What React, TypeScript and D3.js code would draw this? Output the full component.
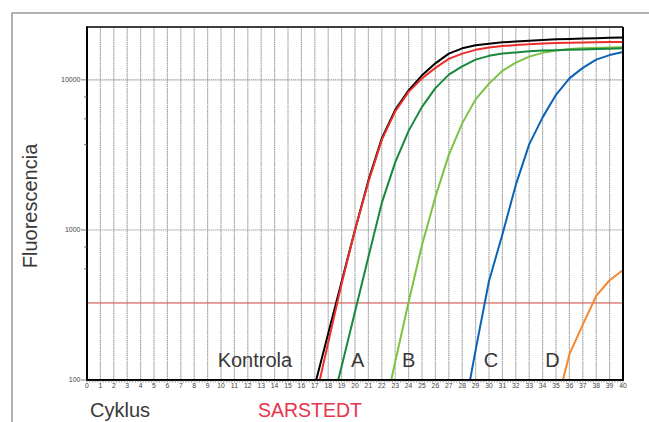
import React from "react";
import * as d3 from "d3";

const W = 649;
const H = 422;

const cycleTicks = d3.range(0, 41);
const cycleMinorTicks = d3.range(0, 40.001, 0.2);
const yMajorTicks = [100, 1000, 10000];
const yMinorTicks = [7700, 5500, 3700, 770, 550];
const thresholdValue = 326;

const kontrolaStart = 16;
const kontrola = [42, 92, 204, 452, 1000, 2138, 4074, 6310, 8511, 10715, 12882, 14962, 16218, 16982, 17378, 17783, 17989, 18197, 18408, 18621, 18750, 18880, 18967, 19055, 19143];
const sarstedtStart = 16;
const sarstedt = [28, 71, 178, 437, 1000, 2089, 3981, 6166, 8318, 10233, 12023, 13804, 14962, 15849, 16406, 16788, 17061, 17298, 17458, 17579, 17660, 17742, 17824, 17865, 17906];
const aStart = 18;
const seriesA = [54, 123, 285, 661, 1514, 2818, 4571, 6607, 8810, 10839, 12303, 13646, 14454, 14962, 15241, 15488, 15668, 15776, 15849, 15959, 16032, 16106, 16218];
const bStart = 22;
const seriesB = [52, 132, 331, 794, 1660, 3162, 5129, 7413, 9441, 11482, 13032, 14289, 15136, 15668, 16032, 16218, 16331, 16444, 16520];
const cStart = 28;
const seriesC = [52, 158, 457, 933, 1995, 3715, 5623, 7943, 10233, 12023, 13646, 14622, 15311];
const dStart = 35;
const seriesD = [66, 148, 234, 363, 462, 541];

const curveLabels = [
  { text: "Kontrola", cycle: 9.75 },
  { text: "A", cycle: 19.7 },
  { text: "B", cycle: 23.5 },
  { text: "C", cycle: 29.6 },
  { text: "D", cycle: 34.2 },
];

const FONT = "'Liberation Sans', Arial, Helvetica, sans-serif";

export default function App() {
  const left = 87, right = 623, top = 27, bottom = 380;
  const x = d3.scaleLinear().domain([0, 40]).range([left, right]);
  const y = d3.scaleLog().domain([100, 22500]).range([bottom, top]);

  const mk = (start: number, vals: number[]) =>
    d3
      .line<number>()
      .x((_, i) => x(start + i))
      .y((v) => y(v))(vals) || "";

  const series = [
    { d: mk(dStart, seriesD), color: "#f5872e" },
    { d: mk(cStart, seriesC), color: "#0b63b5" },
    { d: mk(bStart, seriesB), color: "#7cc243" },
    { d: mk(aStart, seriesA), color: "#17893d" },
    { d: mk(kontrolaStart, kontrola), color: "#000000" },
    { d: mk(sarstedtStart, sarstedt), color: "#ec2f2b" },
  ];

  return (
    <svg width={W} height={H} style={{ position: "absolute", left: 0, top: 0 }}>
      <rect x={0} y={0} width={W} height={H} fill="#fff" />
      <rect x={12} y={13} width={W + 10} height={H + 10} fill="none" stroke="#9a9a9a" strokeWidth={1.5} />
      <defs>
        <clipPath id="plotclip">
          <rect x={left} y={top} width={right - left} height={bottom - top} />
        </clipPath>
      </defs>
      {/* vertical grid */}
      {cycleTicks.slice(1, 40).map((c) => (
        <line key={"vg" + c} x1={x(c)} x2={x(c)} y1={top} y2={bottom} stroke="#a2a2a2" strokeWidth={1.2} strokeDasharray="1.5 0.6" />
      ))}
      {/* horizontal grid */}
      {yMajorTicks.slice(1).map((v) => (
        <line key={"hg" + v} x1={left} x2={right} y1={y(v)} y2={y(v)} stroke="#a2a2a2" strokeWidth={1.1} strokeDasharray="1.5 0.6" />
      ))}
      {/* threshold */}
      <line x1={left} x2={right} y1={y(thresholdValue)} y2={y(thresholdValue)} stroke="#c9423c" strokeWidth={1} />
      <g clipPath="url(#plotclip)">
        {series.map((s, i) => (
          <path key={i} d={s.d} fill="none" stroke={s.color} strokeWidth={2} strokeLinejoin="round" />
        ))}
      </g>
      {/* frame */}
      <line x1={left} x2={right} y1={top} y2={top} stroke="#000" strokeWidth={1.5} />
      <line x1={right} x2={right} y1={top} y2={bottom} stroke="#000" strokeWidth={2} />
      <line x1={left} x2={left} y1={top - 0.75} y2={bottom + 1} stroke="#000" strokeWidth={2} />
      <line x1={left} x2={right + 1} y1={bottom} y2={bottom} stroke="#000" strokeWidth={2} />
      {/* x ticks */}
      {cycleMinorTicks.map((c, i) => (
        <line key={"xm" + i} x1={x(c)} x2={x(c)} y1={bottom} y2={bottom + 2.5} stroke="#555" strokeWidth={0.6} />
      ))}
      {cycleTicks.map((c) => (
        <text key={"xl" + c} x={x(c)} y={388} fontSize={6.8} fill="#444" textAnchor="middle" fontFamily={FONT}>
          {c}
        </text>
      ))}
      {/* y ticks */}
      {yMajorTicks.map((v) => (
        <g key={"ym" + v}>
          <line x1={left - 6} x2={left} y1={y(v)} y2={y(v)} stroke="#555" strokeWidth={0.8} />
          <text x={left - 6.5} y={y(v) + 2.4} fontSize={7} fill="#444" textAnchor="end" fontFamily={FONT}>
            {v}
          </text>
        </g>
      ))}
      {yMinorTicks.map((v) => (
        <line key={"yn" + v} x1={left - 3} x2={left} y1={y(v)} y2={y(v)} stroke="#555" strokeWidth={0.8} />
      ))}
      {/* curve labels */}
      {curveLabels.map((l) => (
        <text key={l.text} x={x(l.cycle)} y={367} fontSize={20} fill="#383838" fontFamily={FONT}>
          {l.text}
        </text>
      ))}
      {/* axis titles */}
      <text transform="translate(37,206) rotate(-90)" textAnchor="middle" fontSize={20} fill="#383838" fontFamily={FONT}>
        Fluorescencia
      </text>
      <text x={90} y={417} fontSize={20} fill="#383838" fontFamily={FONT}>
        Cyklus
      </text>
      <text x={258} y={417} fontSize={19.5} fill="#e6344c" fontFamily={FONT}>
        SARSTEDT
      </text>
    </svg>
  );
}
